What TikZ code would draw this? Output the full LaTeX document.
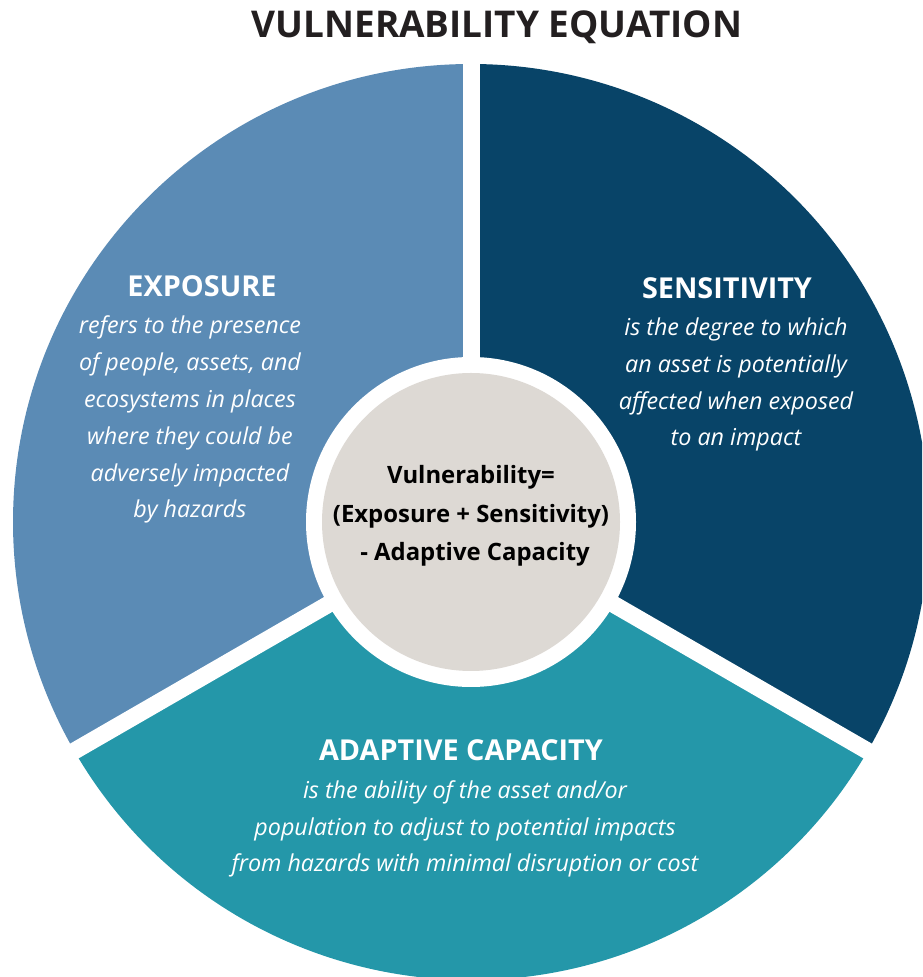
\documentclass[tikz,border=0pt]{standalone}
\usepackage{fontspec}
\setmainfont{Open Sans}
\definecolor{expo}{HTML}{5B8BB5}
\definecolor{sens}{HTML}{084468}
\definecolor{adap}{HTML}{2497A9}
\definecolor{core}{HTML}{DDD9D4}
\definecolor{ttl}{HTML}{231F20}
\tikzset{
  head/.style={inner sep=0pt, text=white, font=\fontsize{28.8}{32}\selectfont\bfseries, anchor=base},
  body/.style={inner sep=0pt, text=white, align=center, font=\fontsize{23.3}{36.8}\selectfont\itshape, anchor=base},
  gap/.style={white, line width=17pt},
}
\begin{document}
\begin{tikzpicture}[x=1pt,y=1pt]
\useasboundingbox (0,0) rectangle (922,977);
\clip (0,0) rectangle (922,977);
\coordinate (C) at (471,455);
\fill[expo] (C) -- ++(90:458) arc[start angle=90,end angle=210,radius=458] -- cycle;
\fill[sens] (C) -- ++(-30:458) arc[start angle=-30,end angle=90,radius=458] -- cycle;
\fill[adap] (C) -- ++(210:458) arc[start angle=210,end angle=330,radius=458] -- cycle;
\draw[gap] (C) -- ++(90:480);
\draw[gap] (C) -- ++(210:480);
\draw[gap] (C) -- ++(330:480);
\fill[white] (C) circle[radius=165];
\node[circle, fill=core, minimum size=298pt, inner sep=0pt] (core) at (C) {};
\node[inner sep=0pt, anchor=base, text=ttl, font=\fontsize{36.9}{42}\selectfont\bfseries] (title) at (497,939) {VULNERABILITY EQUATION};
\node[head] (expoH) at (202,680) {EXPOSURE};
\node[body] (expoB) at (190,459) {refers to the presence\\of people, assets, and\\ecosystems in places\\where they could be\\adversely impacted\\by hazards};
\node[head] (sensH) at (727,678) {SENSITIVITY};
\node[body] (sensB) at (736,531) {is the degree to which\\an asset is potentially\\affected when exposed\\to an impact};
\node[head] (adapH) at (461,216) {ADAPTIVE CAPACITY};
\node[body] (adapB) at (465,105) {is the ability of the asset and/or\\population to adjust to potential impacts\\from hazards with minimal disruption or cost};
\node[inner sep=0pt, anchor=base, align=center, text=black, font=\fontsize{23.9}{38.5}\selectfont\bfseries] (eq) at (471,416) {Vulnerability=\\(Exposure + Sensitivity)\\\hspace*{8pt}- Adaptive Capacity};
\end{tikzpicture}
\end{document}
